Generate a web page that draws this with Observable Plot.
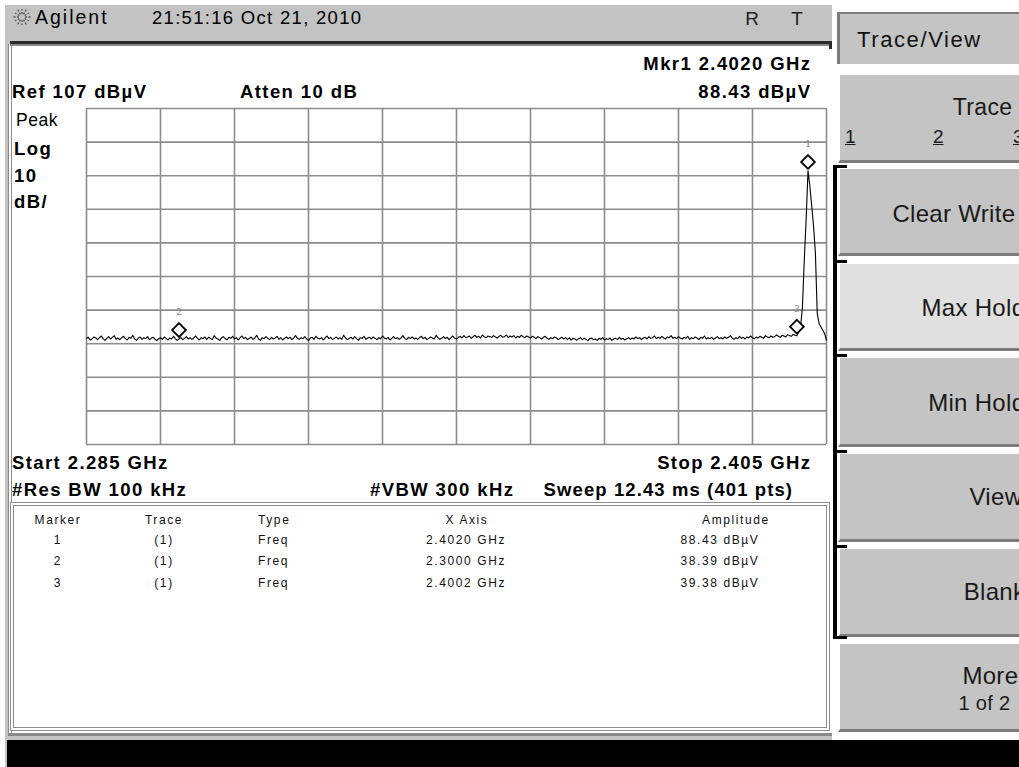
<!DOCTYPE html>
<html><head><meta charset="utf-8">
<script src="https://cdn.jsdelivr.net/npm/d3@7"></script>
<script src="https://cdn.jsdelivr.net/npm/@observablehq/plot@0.6"></script>
<style>
body{margin:0;background:#fff;}
#screen{position:relative;width:1019px;height:767px;overflow:hidden;background:#c3c3c3;font-family:"Liberation Sans",Arial,sans-serif;color:#000;}
.abs{position:absolute;white-space:nowrap;line-height:1;}
.box{position:absolute;box-sizing:border-box;}
.key{position:absolute;box-sizing:border-box;left:838px;width:200px;background:#c4c4c4;border-top:2px solid #fff;border-left:2px solid #fff;border-bottom:3px solid #7c7c7c;}
</style></head><body><div id="screen"></div>
<script>
// ---- chart data ----
const startGHz = 2.285, stopGHz = 2.405;
const refLevel = 107, dbPerDiv = 10, divisions = 10;
const sweepPoints = 401;
const traceDbuV = [
38.6,38.9,38.1,38.4,39.0,38.7,38.2,38.8,39.3,38.5,38.0,38.6,39.1,38.4,38.9,39.4,38.3,38.7,38.2,38.8,
39.2,38.5,38.1,38.9,38.6,39.5,38.4,38.0,38.7,39.0,38.3,38.8,38.5,39.1,38.2,38.6,38.9,38.4,37.9,38.5,
38.8,38.3,39.0,38.6,38.1,38.7,38.4,39.2,38.5,38.0,38.39,38.9,38.2,38.6,39.1,38.4,38.8,38.3,38.7,39.3,
38.6,38.1,38.8,38.5,39.0,38.3,38.9,38.6,38.2,39.4,38.7,38.4,38.0,38.8,39.1,38.5,38.2,38.9,38.6,39.2,
38.4,38.8,38.1,38.7,39.3,38.5,38.9,38.2,38.6,39.0,38.3,38.7,39.5,38.4,38.0,38.8,38.5,39.1,38.6,38.2,
38.9,38.4,38.7,39.2,38.3,38.8,38.1,38.6,39.0,38.5,38.9,38.2,38.7,39.4,38.6,38.3,38.8,38.5,39.1,38.4,
38.0,38.7,38.9,38.3,39.2,38.6,38.4,38.8,38.1,38.7,39.3,38.5,38.9,38.2,38.6,39.0,38.4,38.8,38.3,39.5,
38.7,38.2,38.6,38.9,38.4,39.1,38.5,38.0,38.8,38.6,39.2,38.3,38.7,38.9,38.4,39.0,38.6,38.2,38.8,38.5,
39.3,38.7,38.4,38.9,38.1,38.6,39.1,38.5,38.8,38.3,38.7,39.4,38.6,38.2,38.9,38.5,39.0,38.4,38.7,38.3,
38.8,39.2,38.5,38.9,38.2,38.6,39.0,38.7,38.4,39.5,38.8,38.3,38.6,39.1,38.5,38.9,38.2,38.7,39.3,38.6,
38.4,38.9,39.2,38.7,39.4,38.8,39.0,39.3,38.6,39.1,39.5,38.9,39.2,38.7,39.6,39.0,38.8,39.3,39.1,38.9,
39.4,39.0,38.7,39.2,39.5,38.9,39.1,39.6,38.8,39.3,39.0,39.4,38.7,39.2,38.9,39.5,39.1,38.8,39.3,39.0,
38.7,39.2,38.9,38.5,39.1,38.8,38.4,38.9,39.2,38.6,38.3,38.8,38.5,39.0,38.7,38.2,38.6,38.9,38.4,38.8,
38.3,38.7,38.1,38.6,38.4,38.0,38.5,38.8,38.2,38.6,38.3,37.9,38.5,38.7,38.2,38.4,38.0,38.6,38.3,38.8,
38.1,38.5,38.3,38.7,38.0,38.4,38.6,38.2,38.9,38.3,38.6,38.1,38.5,38.8,38.3,38.7,38.4,39.0,38.5,38.8,
38.2,38.7,38.9,38.4,39.1,38.6,38.8,39.3,38.5,38.9,38.6,39.2,38.7,38.4,39.0,38.8,39.4,38.6,38.9,38.5,
39.1,38.7,38.4,38.9,38.6,39.2,38.3,38.8,38.5,39.0,38.7,38.2,38.9,38.6,39.3,38.4,38.8,38.5,38.9,38.3,
38.7,39.1,38.5,38.8,38.4,39.0,38.6,38.9,39.4,38.7,38.3,38.8,38.5,39.2,38.6,38.9,38.4,39.0,38.7,39.3,
38.8,38.5,39.0,38.7,39.2,38.9,38.6,39.4,39.0,38.8,39.3,38.9,39.1,39.6,39.2,38.9,39.5,39.3,39.0,39.7,
39.4,39.2,39.8,39.5,
39.38,40.5,42.0,48.0,62.0,74.0,88.43,84.0,78.0,72.0,64.0,46.0,43.0,42.0,41.0,40.0,38.0
];
const markerIds = ["1","2","3"];
const markerFreqGHz = [2.4020, 2.3000, 2.4002];
const markerAmpDbuV = [88.43, 38.39, 39.38];
const softkeyLabels = ["Trace","Clear Write","Max Hold","Min Hold","View","Blank","More"];

// ---- build ----
const scr = document.getElementById("screen");
function box(x, y, w, h, style) {
  const d = document.createElement("div"); d.className = "box";
  Object.assign(d.style, {left: x+"px", top: y+"px", width: w+"px", height: h+"px"}, style || {});
  scr.appendChild(d); return d;
}
function T(txt, x, cy, size, o) {
  o = o || {};
  const d = document.createElement("div"); d.className = "abs";
  d.textContent = txt;
  d.style.fontSize = size + "px";
  d.style.top = (cy - 0.49*size) + "px";
  if (o.bold) d.style.fontWeight = "bold";
  if (o.ls) d.style.letterSpacing = o.ls + "px";
  if (o.color) d.style.color = o.color;
  if (o.font) d.style.fontFamily = o.font;
  if (o.ul) d.style.textDecoration = "underline";
  const a = o.anchor || "start";
  if (a === "start") d.style.left = x + "px";
  else if (a === "end") d.style.right = (1019 - x - (o.ls||0)) + "px";
  else { d.style.left = x + "px"; d.style.transform = "translateX(-50%)"; }
  scr.appendChild(d); return d;
}

// top white edge and status bar
box(0, 0, 1019, 5, {background:"#fff"});
box(0, 0, 5, 767, {background:"#fff"});
// display area
box(8, 44, 826, 690, {background:"#fff", borderLeft:"4px double #8a8a8a"});
box(10, 41, 822, 3, {background:"#2a2a2a"});
box(10, 44, 822, 2, {background:"#8a8a8a"});
box(829, 41, 3, 8, {background:"#2a2a2a"});
// bottom black bar
box(7, 740, 1012, 27, {background:"#000"});
box(8, 733, 826, 3, {background:"#8a8a8a"});

// status bar text
const logo = document.createElementNS("http://www.w3.org/2000/svg","svg");
logo.setAttribute("width","24"); logo.setAttribute("height","24");
logo.style.cssText = "position:absolute;left:10px;top:5px";
for (let i = 0; i < 12; i++) {
  const a = i*Math.PI/6, l = document.createElementNS("http://www.w3.org/2000/svg","line");
  l.setAttribute("x1", 12+3*Math.cos(a)); l.setAttribute("y1", 12+3*Math.sin(a));
  l.setAttribute("x2", 12+(i%2?8:10)*Math.cos(a)); l.setAttribute("y2", 12+(i%2?8:10)*Math.sin(a));
  l.setAttribute("stroke","#555"); l.setAttribute("stroke-width","1.3"); l.setAttribute("stroke-dasharray","2 1.5");
  logo.appendChild(l);
}
scr.appendChild(logo);
T("Agilent", 35, 18, 19.5, {ls:2});
T("21:51:16  Oct 21, 2010", 152, 18, 18.5, {ls:1.3});
T("R", 752, 18, 19, {anchor:"middle", color:"#222"});
T("T", 797, 18, 19, {anchor:"middle", color:"#222"});

// header
const bold = {bold:true, ls:1.4};
T("Mkr" + markerIds[0] + "  " + markerFreqGHz[0].toFixed(4) + " GHz", 810, 64, 18.5, {...bold, anchor:"end"});
T("Ref " + refLevel + " dBµV", 12, 92, 18.5, bold);
T("Atten 10 dB", 240, 92, 18.5, bold);
T(markerAmpDbuV[0].toFixed(2) + " dBµV", 810, 92, 18.5, {...bold, anchor:"end"});
T("Peak", 16, 121, 17.5, {ls:0.5});
T("Log", 14, 149, 18.5, bold);
T(String(dbPerDiv), 14, 176, 18.5, bold);
T("dB/", 14, 202, 18.5, bold);
T("Start " + startGHz.toFixed(3) + " GHz", 12, 463, 18.5, bold);
T("Stop " + stopGHz.toFixed(3) + " GHz", 810, 463, 18.5, {...bold, anchor:"end"});
T("#Res BW 100 kHz", 12, 490, 18.5, bold);
T("#VBW 300 kHz", 370, 490, 18.5, bold);
T("Sweep 12.43 ms (" + sweepPoints + " pts)", 792, 490, 18.5, {...bold, ls:1.1, anchor:"end"});

// marker table
box(10, 502, 820, 229, {border:"4px double #8c8c8c", background:"#fff"});
const tf = {ls:1.6, color:"#111"};
T("Marker", 58, 520, 12, {...tf, anchor:"middle"});
T("Trace", 164, 520, 12, {...tf, anchor:"middle"});
T("Type", 258, 520, 12, tf);
T("X Axis", 467, 520, 12, {...tf, anchor:"middle"});
T("Amplitude", 736, 520, 12, {...tf, anchor:"middle"});
const rowY = [540, 561, 583];
markerIds.forEach((id, i) => {
  T(id, 58, rowY[i], 12, {...tf, anchor:"middle"});
  T("(1)", 164, rowY[i], 12, {...tf, anchor:"middle"});
  T("Freq", 258, rowY[i], 12, tf);
  T(markerFreqGHz[i].toFixed(4) + " GHz", 466, rowY[i], 12, {...tf, anchor:"middle"});
  T(markerAmpDbuV[i].toFixed(2) + " dBµV", 720, rowY[i], 12, {...tf, anchor:"middle"});
});

// softkey panel
box(832, 5, 187, 735, {background:"#fff"});
box(837, 12, 190, 52, {background:"#c4c4c4", borderTop:"2px solid #7c7c7c", borderLeft:"3px solid #7c7c7c"});
T("Trace/View", 857, 40, 22, {ls:1.6, color:"#111"});
const keyTop = [73, 167, 262, 356, 452, 547, 642];
const keyH = [90, 89, 89, 91, 90, 90, 90];
keyTop.forEach((t, i) => {
  const k = box(838, t, 200, keyH[i], {});
  k.className = "key";
  if (i === 2) k.style.background = "#e0e0e0";
});
// radio bracket
box(833, 165, 4, 474, {background:"#000"});
[165, 260, 354, 450, 545].forEach(t => box(833, t, 14, 3, {background:"#000"}));
box(833, 636, 14, 3, {background:"#000"});
const kf = {ls:0.3, color:"#1a1a1a", anchor:"end"};
T(softkeyLabels[0], 1012, 107, 23, kf);
T("1", 845, 136, 19, {color:"#1a1a1a", ul:true});
T("2", 933, 136, 19, {color:"#1a1a1a", ul:true});
T("3", 1013, 136, 19, {color:"#1a1a1a", ul:true});
T(softkeyLabels[1], 1015, 214, 24, kf);
T(softkeyLabels[2], 1025, 308, 24, kf);
T(softkeyLabels[3], 1025, 403, 24, kf);
T(softkeyLabels[4], 1022, 497, 24, kf);
T(softkeyLabels[5], 1025, 592, 24, kf);
T(softkeyLabels[6], 1018, 676, 24, kf);
T("1 of 2", 1010, 703, 20, kf);

// ---- the trace plot ----
const step = (stopGHz - startGHz) / (sweepPoints - 1);
const trace = traceDbuV.map((v, i) => ({f: startGHz + i*step, v}));
const markers = markerIds.map((id, i) => ({id, f: markerFreqGHz[i], v: markerAmpDbuV[i]}));
const bottomLevel = refLevel - dbPerDiv*divisions;
const xGrid = d3.range(divisions + 1).map(i => startGHz + i*(stopGHz - startGHz)/divisions);
const yGrid = d3.range(divisions + 1).map(i => bottomLevel + i*dbPerDiv);

const plot = Plot.plot({
  width: 752, height: 350,
  marginLeft: 6, marginRight: 6, marginTop: 8, marginBottom: 6,
  x: {domain: [startGHz, stopGHz], axis: null},
  y: {domain: [bottomLevel, refLevel], axis: null},
  style: {background: "transparent", overflow: "visible"},
  marks: [
    Plot.ruleX(xGrid, {stroke: "#8c8c8c", strokeWidth: 1.6}),
    Plot.ruleY(yGrid, {stroke: "#8c8c8c", strokeWidth: 1.6}),
    Plot.line(trace, {x: "f", y: "v", stroke: "#000", strokeWidth: 1.1}),
    Plot.dot(markers, {x: "f", y: "v", symbol: "diamond2", r: 6.2, stroke: "#000", fill: "#fff", strokeWidth: 1.8, dy: -9}),
    Plot.text(markers, {x: "f", y: "v", text: "id", dy: -27, fill: "#777", fontSize: 9, fontFamily: "DejaVu Serif"})
  ]
});
plot.style.position = "absolute";
plot.style.left = "80px";
plot.style.top = "100px";
scr.appendChild(plot);
</script></body></html>
